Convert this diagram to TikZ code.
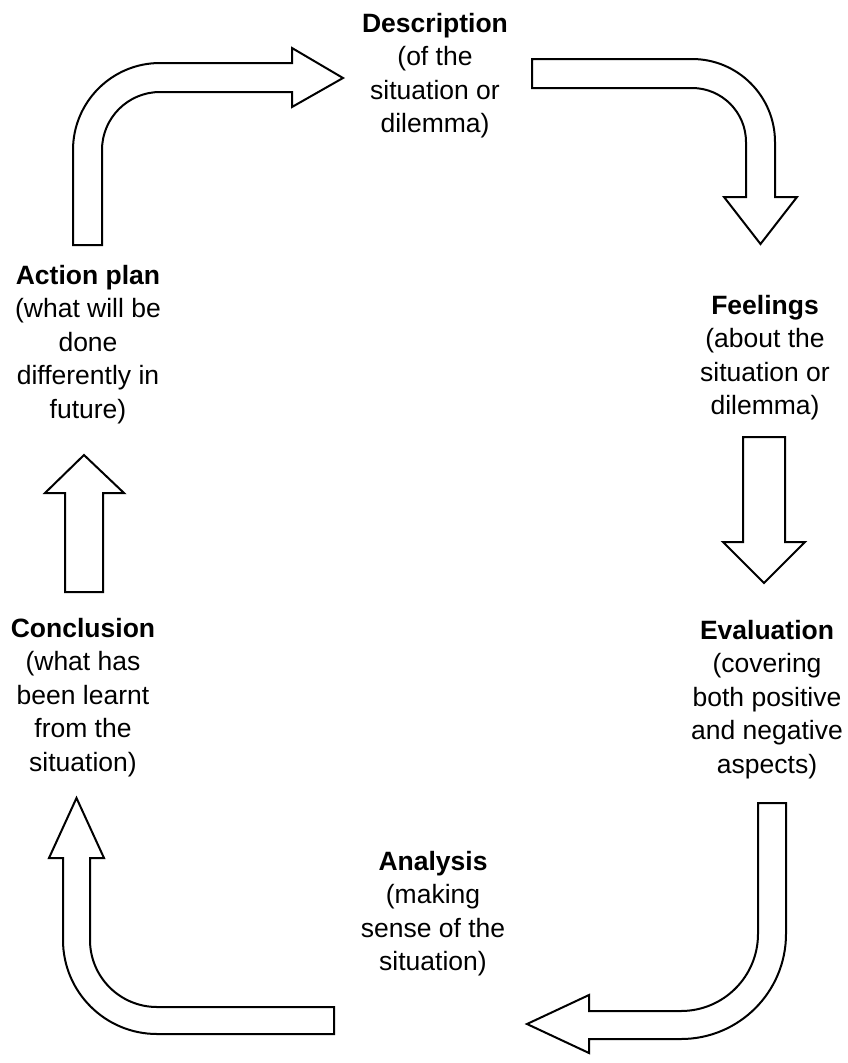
\documentclass[tikz,border=0pt]{standalone}
\usepackage{fontspec}
\setmainfont[Ligatures=NoCommon]{Liberation Sans}
\usepackage{tikz}

\begin{document}
\begin{tikzpicture}[
	x=1pt, y=-1pt
	,t/.style={align=center, inner sep=0pt, anchor=north, font=\fontsize{26.5}{33.5}\selectfont}
	,a/.style={draw=black, fill=white, line width=2pt, line join=miter}
]
	\useasboundingbox (0,0) rectangle (848,1063);

	\node [t] (D) at (435,13) {\textbf{Description}\\(of the\\situation or\\dilemma)};
	\node [t] (F) at (765,295) {\textbf{Feelings}\\(about the\\situation or\\dilemma)};
	\node [t] (E) at (767,620) {\textbf{Evaluation}\\(covering\\both positive\\and negative\\aspects)};
	\node [t] (A) at (433,851) {\textbf{Analysis}\\(making\\sense of the\\situation)};
	\node [t] (C) at (83,618) {\textbf{Conclusion}\\(what has\\been learnt\\from the\\situation)};
	\node [t] (P) at (88,265) {\textbf{Action plan}\\(what will be\\done\\differently in\\future)};

	\draw [a] (73,245) -- (73,150) arc[start angle=180, end angle=90, radius=87pt]
		-- (292,63) -- (292,48) -- (343,78) -- (292,107) -- (292,92) -- (160,92)
		arc[start angle=90, end angle=180, radius=58pt] -- (102,245) -- cycle;
	\draw [a] (532,59) -- (692,59) arc[start angle=90, end angle=0, radius=83pt]
		-- (775,197) -- (797,197) -- (760.5,244) -- (724,197) -- (746,197) -- (746,142)
		arc[start angle=0, end angle=90, radius=54pt] -- (532,88) -- cycle;
	\draw [a] (743,437) -- (785,437) -- (785,542) -- (805,542) -- (764,583)
		-- (723,542) -- (743,542) -- cycle;
	\draw [a] (758,803) -- (786,803) -- (786,934) arc[start angle=0, end angle=-90, radius=105pt]
		-- (589,1039) -- (589,1053) -- (527,1024) -- (589,995) -- (589,1011) -- (681,1011)
		arc[start angle=-90, end angle=0, radius=77pt] -- cycle;
	\draw [a] (334,1007) -- (334,1034) -- (157,1034) arc[start angle=270, end angle=180, radius=94pt]
		-- (63,858) -- (49,858) -- (76.5,798) -- (104,858) -- (90,858) -- (90,940)
		arc[start angle=180, end angle=270, radius=67pt] -- cycle;
	\draw [a] (65,592) -- (103,592) -- (103,493) -- (124,493) -- (84,455)
		-- (45,493) -- (65,493) -- cycle;
\end{tikzpicture}
\end{document}
